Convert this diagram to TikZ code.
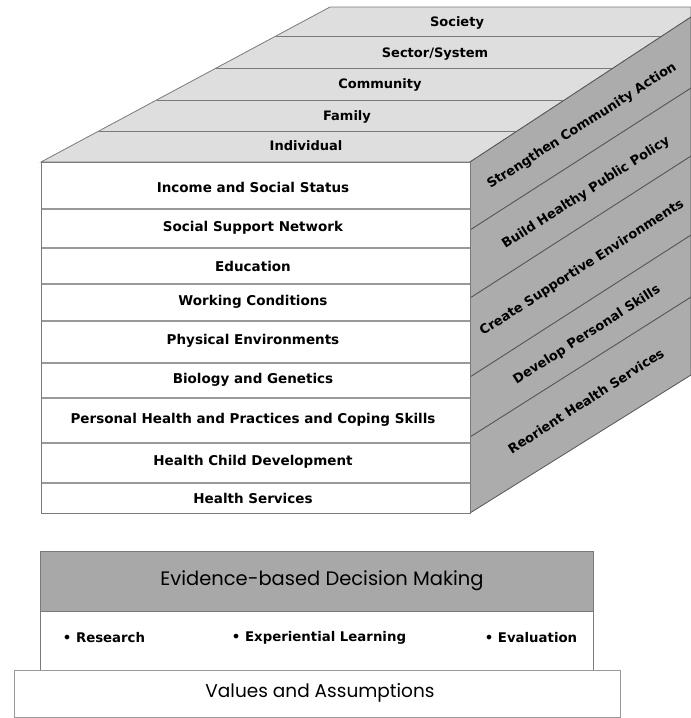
\documentclass[tikz,border=0pt]{standalone}
\usepackage{fontspec}
\setmainfont{DejaVu Sans}
\newfontfamily\geofont{Poppins}
\definecolor{topgray}{HTML}{DEDEDE}
\definecolor{sidegray}{HTML}{ACACAC}
\definecolor{darkbox}{HTML}{A8A8A8}
\definecolor{edgegray}{HTML}{7A7A7A}
\definecolor{rowline}{HTML}{999999}
\definecolor{sideline}{HTML}{555555}
\begin{document}
\begin{tikzpicture}[x=1pt,y=-1pt,
  frontlab/.style={font=\fontsize{13.5}{15}\selectfont\bfseries, inner sep=0pt, anchor=center},
  toplab/.style={font=\fontsize{13}{15}\selectfont\bfseries, inner sep=0pt, anchor=center},
  sidelab/.style={font=\fontsize{13}{15}\selectfont\bfseries, inner sep=0pt, anchor=center, rotate=32.7},
  geolab/.style={font=\geofont\fontsize{19.5}{21}\selectfont, inner sep=0pt, anchor=center},
  valuelab/.style={font=\geofont\fontsize{18.5}{20}\selectfont, inner sep=0pt, anchor=center},
  bulletlab/.style={font=\fontsize{13.3}{15}\selectfont\bfseries, inner sep=0pt, anchor=center},
  rowsep/.style={draw=rowline, line width=1.2pt},
  toprow/.style={draw=edgegray, line width=1pt},
  sidesep/.style={draw=sideline, line width=0.9pt}]
\useasboundingbox (0,0) rectangle (691,718);
\fill[white] (0,0) rectangle (691,718);
\begin{scope}
\clip (0,0) rectangle (691,718);
% corners
\coordinate (FL) at (41,162);
\coordinate (FR) at (470,162);
\coordinate (BL) at (41,513);
\coordinate (BR) at (470,513);
\coordinate (TL) at (330,7);
\coordinate (TRa) at (691,7);
\coordinate (TRb) at (691,17);
\coordinate (SB) at (691,375);
% top face
\filldraw[fill=topgray, draw=edgegray, line width=0.8pt] (FL) -- (TL) -- (TRa) -- (TRb) -- (FR) -- cycle;
\foreach \yy in {131,100,68,36}{
  \pgfmathsetmacro{\xl}{41+(162-\yy)*1.865}
  \pgfmathsetmacro{\xr}{470+(162-\yy)*1.524}
  \draw[toprow] (\xl,\yy) -- (\xr,\yy);
}
% side face
\filldraw[fill=sidegray, draw=sideline, line width=0.8pt] (FR) -- (TRb) -- (SB) -- (BR) -- cycle;
\draw[sidesep] (470,230) -- (691,88);
\draw[sidesep] (470,298) -- (691,156);
\draw[sidesep] (470,377) -- (691,235);
\draw[sidesep] (470,437) -- (691,297);
% front face
\filldraw[fill=white, draw=edgegray, line width=0.9pt] (FL) rectangle (BR);
\foreach \yy in {209,248,284,321,363,398,443,483}{
  \draw[rowsep] (41.5,\yy) -- (469.5,\yy);
}
\end{scope}
% top labels
\node[toplab] (society) at (457,23) {Society};
\node[toplab] (sector) at (435,54) {Sector/System};
\node[toplab] (community) at (380,85) {Community};
\node[toplab] (family) at (347,117) {Family};
\node[toplab] (individual) at (306,146) {Individual};
% front labels
\node[frontlab] (income) at (253,187) {Income and Social Status};
\node[frontlab] (support) at (253,228) {Social Support Network};
\node[frontlab] (education) at (253,266) {Education};
\node[frontlab] (working) at (253,302) {Working Conditions};
\node[frontlab] (physical) at (253,341) {Physical Environments};
\node[frontlab] (biology) at (253,380) {Biology and Genetics};
\node[frontlab] (personal) at (253,420) {Personal Health and Practices and Coping Skills};
\node[frontlab] (child) at (253,462) {Health Child Development};
\node[frontlab] (services) at (253,498) {Health Services};
% side labels
\node[sidelab] (strengthen) at (582,126) {Strengthen Community Action};
\node[sidelab] (build) at (586,193) {Build Healthy Public Policy};
\node[sidelab] (create) at (582,268) {Create Supportive Environments};
\node[sidelab] (develop) at (587,335) {Develop Personal Skills};
\node[sidelab] (reorient) at (586,401) {Reorient Health Services};
% bottom boxes
\filldraw[fill=darkbox, draw=edgegray, line width=0.9pt] (40,551) rectangle (593,611);
\filldraw[fill=white, draw=edgegray, line width=0.9pt] (40,611) rectangle (593,670);
\filldraw[fill=white, draw=rowline, line width=0.9pt] (14,670) rectangle (620,717);
\node[geolab] (evidence) at (322,581) {Evidence-based Decision Making};
\node[bulletlab] (research) at (104,638) {• Research};
\node[bulletlab] (experiential) at (319,638) {• Experiential Learning};
\node[bulletlab] (evaluation) at (531,638) {• Evaluation};
\node[valuelab] (values) at (320,693) {Values and Assumptions};
\end{tikzpicture}
\end{document}
